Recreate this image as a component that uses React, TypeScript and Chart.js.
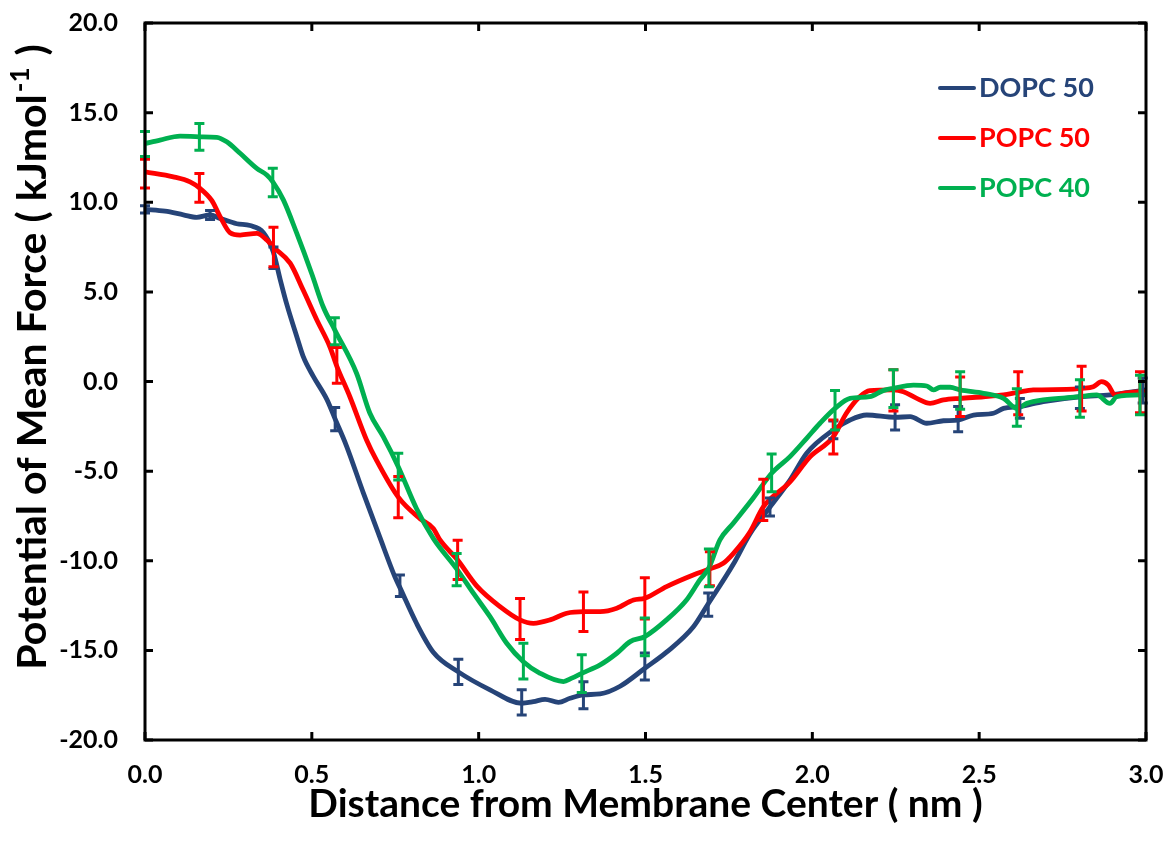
import React, { useEffect, useRef } from "react";
import { Chart, registerables } from "chart.js";

Chart.register(...registerables);

const FONT = "Lato, 'Open Sans', 'DejaVu Sans', sans-serif";

// Series names and colours
const seriesNames = ["DOPC 50", "POPC 50", "POPC 40"];
const seriesColors = ["#264478", "#FF0000", "#00B050"];

// PMF profiles: [distance (nm), PMF (kJ/mol)]
const dopc50: [number, number][] = [
  [0, 9.6], [0.06, 9.5], [0.115, 9.3], [0.155, 9.16], [0.195, 9.29], [0.225, 9.1],
  [0.275, 8.8], [0.315, 8.7], [0.355, 8.3], [0.385, 7.2], [0.405, 5.7], [0.425, 4.3],
  [0.455, 2.5], [0.474, 1.4], [0.504, 0.3], [0.545, -1.0], [0.57, -2.1], [0.604, -3.6],
  [0.654, -6.2], [0.704, -8.7], [0.749, -10.9], [0.764, -11.5], [0.814, -13.5],
  [0.864, -15.1], [0.939, -16.2], [1.034, -17.2], [1.129, -17.95], [1.164, -17.86],
  [1.199, -17.73], [1.239, -17.9], [1.274, -17.67], [1.314, -17.48], [1.364, -17.43],
  [1.424, -17.0], [1.498, -16.0], [1.563, -15.1], [1.643, -13.7], [1.688, -12.4],
  [1.763, -10.2], [1.813, -8.5], [1.873, -7.0], [1.933, -5.5], [1.983, -4.0],
  [2.063, -2.7], [2.113, -2.15], [2.163, -1.87], [2.248, -2.0], [2.293, -1.96],
  [2.343, -2.33], [2.393, -2.19], [2.437, -2.15], [2.483, -1.87], [2.543, -1.77],
  [2.573, -1.5], [2.622, -1.4], [2.692, -1.12], [2.802, -0.85], [2.892, -0.75], [3.0, -0.47],
];

const popc50: [number, number][] = [
  [0, 11.7], [0.085, 11.42], [0.135, 11.14], [0.163, 10.8], [0.2, 10.1], [0.225, 9.2],
  [0.255, 8.3], [0.285, 8.17], [0.335, 8.26], [0.365, 7.9], [0.385, 7.5], [0.435, 6.6],
  [0.474, 5.1], [0.515, 3.43], [0.554, 1.94], [0.575, 0.85], [0.614, -0.85], [0.664, -3.26],
  [0.694, -4.4], [0.759, -6.45], [0.824, -7.65], [0.864, -8.2], [0.884, -8.84],
  [0.937, -9.96], [0.994, -11.4], [1.064, -12.56], [1.124, -13.3], [1.164, -13.49],
  [1.214, -13.3], [1.264, -12.93], [1.314, -12.84], [1.364, -12.84], [1.414, -12.65],
  [1.464, -12.19], [1.498, -12.09], [1.563, -11.44], [1.643, -10.79], [1.693, -10.45],
  [1.733, -10.14], [1.763, -9.6], [1.813, -8.4], [1.853, -7.0], [1.933, -5.6],
  [1.993, -4.2], [2.063, -3.08], [2.102, -1.77], [2.142, -0.85], [2.172, -0.51],
  [2.243, -0.47], [2.273, -0.57], [2.313, -0.94], [2.353, -1.22], [2.393, -1.03],
  [2.443, -0.94], [2.513, -0.85], [2.573, -0.75], [2.617, -0.6], [2.662, -0.47],
  [2.762, -0.44], [2.807, -0.38], [2.842, -0.29], [2.867, -0.01], [2.887, -0.2],
  [2.907, -0.75], [2.932, -0.66], [2.982, -0.57], [3.0, -0.55],
];

const popc40: [number, number][] = [
  [0, 13.28], [0.045, 13.47], [0.105, 13.69], [0.163, 13.65], [0.215, 13.62],
  [0.245, 13.37], [0.285, 12.73], [0.335, 11.89], [0.365, 11.52], [0.383, 11.14],
  [0.415, 10.12], [0.455, 8.26], [0.5, 6.0], [0.534, 4.17], [0.569, 2.87], [0.634, 0.46],
  [0.674, -1.77], [0.714, -3.08], [0.759, -4.75], [0.814, -7.1], [0.864, -8.75],
  [0.934, -10.45], [0.984, -11.81], [1.034, -13.12], [1.084, -14.6], [1.134, -15.63],
  [1.184, -16.28], [1.254, -16.74], [1.279, -16.55], [1.309, -16.28], [1.364, -15.81],
  [1.414, -15.16], [1.454, -14.51], [1.498, -14.23], [1.563, -13.3], [1.623, -12.19],
  [1.663, -11.07], [1.69, -10.4], [1.723, -8.84], [1.763, -7.91], [1.823, -6.5],
  [1.878, -5.12], [1.933, -4.19], [1.983, -3.17], [2.023, -2.33], [2.068, -1.5],
  [2.113, -0.94], [2.172, -0.85], [2.212, -0.51], [2.243, -0.38], [2.303, -0.2],
  [2.343, -0.25], [2.363, -0.47], [2.383, -0.32], [2.413, -0.32], [2.443, -0.47],
  [2.513, -0.66], [2.573, -0.94], [2.613, -1.5], [2.643, -1.22], [2.692, -1.03],
  [2.802, -0.85], [2.852, -0.75], [2.892, -1.22], [2.912, -0.85], [2.982, -0.75], [3.0, -0.75],
];

// Error bars: [distance (nm), PMF, half-width]
const dopc50Err: [number, number, number][] = [
  [0, 9.6, 0.2], [0.195, 9.29, 0.25], [0.385, 6.9, 0.6], [0.57, -2.1, 0.65],
  [0.764, -11.4, 0.6], [0.939, -16.2, 0.7], [1.129, -17.9, 0.7], [1.314, -17.5, 0.75],
  [1.498, -15.9, 0.75], [1.688, -12.45, 0.65], [1.873, -7.0, 0.5], [2.063, -2.7, 0.5],
  [2.248, -2.0, 0.7], [2.437, -2.1, 0.7], [2.622, -1.5, 0.55], [2.802, -0.9, 0.6],
  [2.99, -0.5, 0.7],
];
const popc50Err: [number, number, number][] = [
  [0, 11.6, 0.8], [0.163, 10.8, 0.8], [0.385, 7.5, 1.1], [0.575, 0.9, 1.0],
  [0.759, -6.45, 1.15], [0.937, -9.95, 1.1], [1.124, -13.25, 1.15], [1.314, -12.85, 1.1],
  [1.498, -12.1, 1.15], [1.693, -10.45, 0.95], [1.853, -6.6, 1.15], [2.063, -3.1, 0.95],
  [2.243, -0.5, 1.15], [2.443, -0.85, 1.1], [2.617, -0.65, 1.2], [2.807, -0.4, 1.25],
  [2.982, -0.6, 1.15],
];
const popc40Err: [number, number, number][] = [
  [0, 13.25, 0.7], [0.163, 13.65, 0.75], [0.383, 11.1, 0.8], [0.569, 2.8, 0.75],
  [0.759, -4.75, 0.75], [0.934, -10.5, 0.9], [1.134, -15.6, 1.0], [1.309, -16.3, 1.05],
  [1.498, -14.25, 1.05], [1.69, -10.4, 1.05], [1.878, -5.1, 1.05], [2.068, -1.6, 1.1],
  [2.243, -0.4, 1.05], [2.443, -0.5, 1.05], [2.613, -1.45, 1.05], [2.802, -0.95, 1.05],
  [2.982, -0.75, 1.1],
];

// Axis ranges
const xRange = { min: 0, max: 3, step: 0.5 };
const yRange = { min: -20, max: 20, step: 5 };

const xTitle = "Distance from Membrane Center ( nm )";
const yTitleMain = "Potential of Mean Force ( kJmol";
const yTitleSup = "-1";
const yTitleEnd = " )";

const seriesData = [dopc50, popc50, popc40];
const seriesErr = [dopc50Err, popc50Err, popc40Err];

const errorBarPlugin = {
  id: "errorBars",
  afterDatasetsDraw(chart: any) {
    const { ctx, scales } = chart;
    const xs = scales.x;
    const ys = scales.y;
    ctx.save();
    ctx.lineWidth = 3;
    seriesErr.forEach((bars, i) => {
      ctx.strokeStyle = seriesColors[i];
      bars.forEach(([x, y, e]) => {
        const px = xs.getPixelForValue(x);
        const top = ys.getPixelForValue(y + e);
        const bot = ys.getPixelForValue(y - e);
        const cap = 5;
        ctx.beginPath();
        ctx.moveTo(px, top);
        ctx.lineTo(px, bot);
        ctx.moveTo(px - cap, top);
        ctx.lineTo(px + cap, top);
        ctx.moveTo(px - cap, bot);
        ctx.lineTo(px + cap, bot);
        ctx.stroke();
      });
    });
    ctx.restore();
  },
};

const framePlugin = {
  id: "frameAndTitles",
  afterDraw(chart: any) {
    const { ctx, chartArea: a, scales } = chart;
    const xs = scales.x;
    const ys = scales.y;
    ctx.save();
    ctx.strokeStyle = "#000";
    ctx.lineWidth = 3;
    ctx.strokeRect(a.left, a.top, a.right - a.left, a.bottom - a.top);
    const L = 8;
    ctx.beginPath();
    xs.ticks.forEach((t: any) => {
      const px = xs.getPixelForValue(t.value);
      ctx.moveTo(px, a.bottom);
      ctx.lineTo(px, a.bottom - L);
      ctx.moveTo(px, a.top);
      ctx.lineTo(px, a.top + L);
    });
    ys.ticks.forEach((t: any) => {
      const py = ys.getPixelForValue(t.value);
      ctx.moveTo(a.left, py);
      ctx.lineTo(a.left + L, py);
      ctx.moveTo(a.right, py);
      ctx.lineTo(a.right - L, py);
    });
    ctx.stroke();

    // x-axis title
    ctx.fillStyle = "#000";
    ctx.font = `bold 39px ${FONT}`;
    ctx.textAlign = "center";
    ctx.textBaseline = "middle";
    ctx.fillText(xTitle, (a.left + a.right) / 2, 804);

    // y-axis title with superscript
    const mainFont = `bold 41px ${FONT}`;
    const supFont = `bold 26px ${FONT}`;
    ctx.font = mainFont;
    const w1 = ctx.measureText(yTitleMain).width;
    const w3 = ctx.measureText(yTitleEnd).width;
    ctx.font = supFont;
    const w2 = ctx.measureText(yTitleSup).width;
    const total = w1 + w2 + w3 + 4;
    ctx.translate(33, 357);
    ctx.rotate(-Math.PI / 2);
    ctx.textAlign = "left";
    ctx.textBaseline = "middle";
    let cx = -total / 2;
    ctx.font = mainFont;
    ctx.fillText(yTitleMain, cx, 0);
    cx += w1 + 2;
    ctx.font = supFont;
    ctx.fillText(yTitleSup, cx, -12);
    cx += w2 + 2;
    ctx.font = mainFont;
    ctx.fillText(yTitleEnd, cx, 0);
    ctx.restore();

    // legend
    ctx.save();
    ctx.font = `bold 27px ${FONT}`;
    ctx.textAlign = "left";
    ctx.textBaseline = "middle";
    ctx.lineWidth = 4;
    ctx.lineCap = "round";
    chart.data.datasets.forEach((ds: any, i: number) => {
      const yy = 88 + i * 50;
      ctx.strokeStyle = ds.borderColor;
      ctx.beginPath();
      ctx.moveTo(940, yy);
      ctx.lineTo(974, yy);
      ctx.stroke();
      ctx.fillStyle = ds.borderColor;
      ctx.fillText(ds.label, 979, yy);
    });
    ctx.restore();
  },
};

export default function App() {
  const canvasRef = useRef<HTMLCanvasElement | null>(null);

  useEffect(() => {
    const canvas = canvasRef.current;
    if (!canvas) return;
    const chart = new Chart(canvas, {
      type: "line",
      data: {
        datasets: seriesData.map((d, i) => ({
          label: seriesNames[i],
          data: d.map(([x, y]) => ({ x, y })),
          borderColor: seriesColors[i],
          backgroundColor: seriesColors[i],
          borderWidth: 4.8,
          pointRadius: 0,
          cubicInterpolationMode: "monotone" as const,
          fill: false,
          order: 2 - i,
        })),
      },
      options: {
        responsive: false,
        animation: false,
        layout: { padding: { top: 23, right: 21, left: 0, bottom: 0 } },
        plugins: {
          legend: { display: false },
          tooltip: { enabled: false },
        },
        scales: {
          x: {
            type: "linear",
            min: xRange.min,
            max: xRange.max,
            grid: { display: false, drawTicks: false },
            border: { display: false },
            ticks: {
              stepSize: xRange.step,
              padding: 20,
              color: "#000",
              font: { family: FONT, size: 25, weight: "bold" },
              callback: (v: any) => Number(v).toFixed(1),
            },
            afterFit: (s: any) => {
              s.height = 104;
              s.paddingLeft = 0;
              s.paddingRight = 0;
            },
          },
          y: {
            type: "linear",
            min: yRange.min,
            max: yRange.max,
            grid: { display: false, drawTicks: false },
            border: { display: false },
            ticks: {
              stepSize: yRange.step,
              padding: 27,
              color: "#000",
              font: { family: FONT, size: 25, weight: "bold" },
              callback: (v: any) => Number(v).toFixed(1),
            },
            afterFit: (s: any) => {
              s.width = 145;
              s.paddingTop = 0;
              s.paddingBottom = 0;
            },
          },
        },
      },
      plugins: [errorBarPlugin, framePlugin],
    });
    return () => chart.destroy();
  }, []);

  return (
    <div style={{ position: "absolute", left: 0, top: 0, width: 1167, height: 844, background: "#fff" }}>
      <canvas ref={canvasRef} width={1167} height={844} style={{ display: "block" }} />
    </div>
  );
}
